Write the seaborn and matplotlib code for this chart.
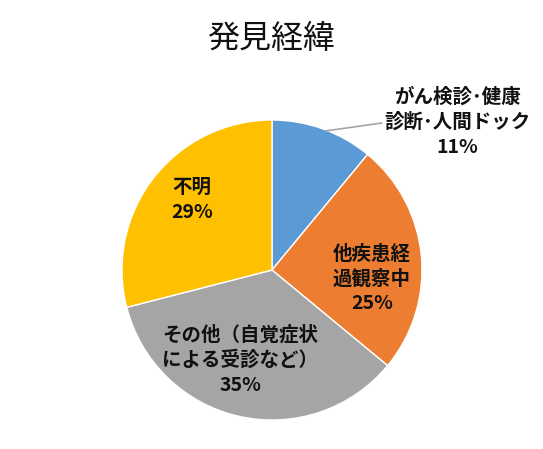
import matplotlib
matplotlib.use("Agg")
import matplotlib.pyplot as plt
import seaborn as sns

# data
labels = ["がん検診･健康\n診断･人間ドック", "他疾患経\n過観察中", "その他（自覚症状\nによる受診など）", "不明"]
values = [11, 25, 35, 29]
colors = ["#5B9BD5", "#ED7D31", "#A5A5A5", "#FFC000"]

sns.set_theme(style="white")
plt.rcParams["font.family"] = ["Noto Sans CJK JP", "DejaVu Sans"]

fig = plt.figure(figsize=(5.43, 4.49), dpi=100)
ax = fig.add_axes([0, 0, 1, 1])

cx, cy, r = 272, 270, 150
ax.pie(values, colors=sns.color_palette(colors), startangle=90, counterclock=False,
       radius=1, wedgeprops=dict(edgecolor="white", linewidth=1))
ax.set_xlim(-cx / r, (543 - cx) / r)
ax.set_ylim(-(449 - cy) / r, cy / r)
ax.set_aspect("equal")
ax.axis("off")

# label positions (pixel coords of the reference, converted)
pos = [(457, 122), (372, 279), (240, 360), (192, 200)]
for lab, v, (px, py) in zip(labels, values, pos):
    ax.text((px - cx) / r, (cy - py) / r, f"{lab}\n{v}%", ha="center", va="center",
            fontsize=14, fontweight="bold", color="#111111", linespacing=1.38)

# leader line for the small slice
ax.plot([(325 - cx) / r, (382 - cx) / r], [(cy - 131) / r, (cy - 123) / r],
        color="#A5A5A5", linewidth=1.2)

fig.text(0.5, 1 - 39 / 449, "発見経緯", ha="center", va="center", fontsize=23,
         color="#111111")

fig.savefig("out.png", dpi=100)
